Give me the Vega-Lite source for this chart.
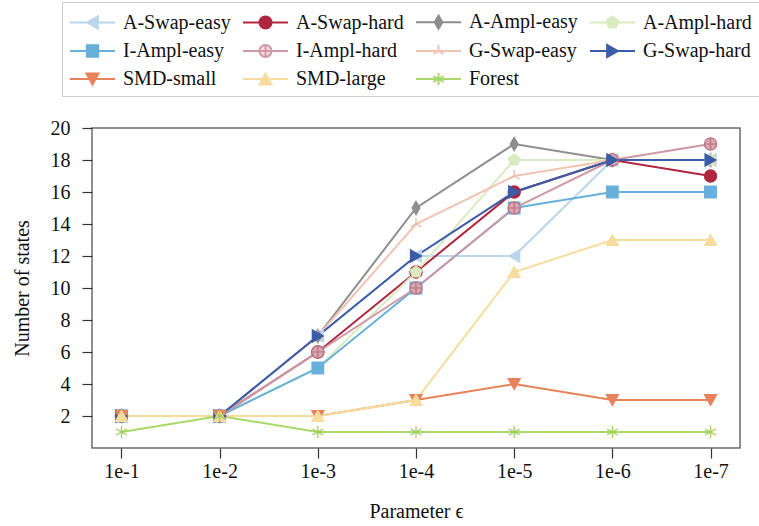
{
  "$schema": "https://vega.github.io/schema/vega-lite/v6.json",
  "width": 648,
  "height": 320,
  "autosize": {"type": "none"},
  "padding": {"left": 92, "top": 128, "right": 19, "bottom": 78},
  "config": {
    "font": "Liberation Serif",
    "view": {"stroke": "#6b6b6b", "strokeWidth": 1.5},
    "axis": {
      "labelFont": "Liberation Serif",
      "labelFontSize": 20,
      "labelColor": "#111111",
      "titleFont": "Liberation Serif",
      "titleFontSize": 20,
      "titleFontWeight": "normal",
      "titleColor": "#111111",
      "grid": false,
      "domain": false,
      "tickColor": "#333333",
      "tickSize": 10,
      "tickWidth": 1.2
    }
  },
  "data": {
    "values": [
      {"series": "A-Swap-easy", "epsilon": "1e-1", "states": 2},
      {"series": "A-Swap-easy", "epsilon": "1e-2", "states": 2},
      {"series": "A-Swap-easy", "epsilon": "1e-3", "states": 7},
      {"series": "A-Swap-easy", "epsilon": "1e-4", "states": 12},
      {"series": "A-Swap-easy", "epsilon": "1e-5", "states": 12},
      {"series": "A-Swap-easy", "epsilon": "1e-6", "states": 18},
      {"series": "A-Swap-easy", "epsilon": "1e-7", "states": 18},
      {"series": "A-Swap-hard", "epsilon": "1e-1", "states": 2},
      {"series": "A-Swap-hard", "epsilon": "1e-2", "states": 2},
      {"series": "A-Swap-hard", "epsilon": "1e-3", "states": 6},
      {"series": "A-Swap-hard", "epsilon": "1e-4", "states": 11},
      {"series": "A-Swap-hard", "epsilon": "1e-5", "states": 16},
      {"series": "A-Swap-hard", "epsilon": "1e-6", "states": 18},
      {"series": "A-Swap-hard", "epsilon": "1e-7", "states": 17},
      {"series": "A-Ampl-easy", "epsilon": "1e-1", "states": 2},
      {"series": "A-Ampl-easy", "epsilon": "1e-2", "states": 2},
      {"series": "A-Ampl-easy", "epsilon": "1e-3", "states": 7},
      {"series": "A-Ampl-easy", "epsilon": "1e-4", "states": 15},
      {"series": "A-Ampl-easy", "epsilon": "1e-5", "states": 19},
      {"series": "A-Ampl-easy", "epsilon": "1e-6", "states": 18},
      {"series": "A-Ampl-easy", "epsilon": "1e-7", "states": 18},
      {"series": "A-Ampl-hard", "epsilon": "1e-1", "states": 2},
      {"series": "A-Ampl-hard", "epsilon": "1e-2", "states": 2},
      {"series": "A-Ampl-hard", "epsilon": "1e-3", "states": 5},
      {"series": "A-Ampl-hard", "epsilon": "1e-4", "states": 11},
      {"series": "A-Ampl-hard", "epsilon": "1e-5", "states": 18},
      {"series": "A-Ampl-hard", "epsilon": "1e-6", "states": 18},
      {"series": "A-Ampl-hard", "epsilon": "1e-7", "states": 18},
      {"series": "I-Ampl-easy", "epsilon": "1e-1", "states": 2},
      {"series": "I-Ampl-easy", "epsilon": "1e-2", "states": 2},
      {"series": "I-Ampl-easy", "epsilon": "1e-3", "states": 5},
      {"series": "I-Ampl-easy", "epsilon": "1e-4", "states": 10},
      {"series": "I-Ampl-easy", "epsilon": "1e-5", "states": 15},
      {"series": "I-Ampl-easy", "epsilon": "1e-6", "states": 16},
      {"series": "I-Ampl-easy", "epsilon": "1e-7", "states": 16},
      {"series": "I-Ampl-hard", "epsilon": "1e-1", "states": 2},
      {"series": "I-Ampl-hard", "epsilon": "1e-2", "states": 2},
      {"series": "I-Ampl-hard", "epsilon": "1e-3", "states": 6},
      {"series": "I-Ampl-hard", "epsilon": "1e-4", "states": 10},
      {"series": "I-Ampl-hard", "epsilon": "1e-5", "states": 15},
      {"series": "I-Ampl-hard", "epsilon": "1e-6", "states": 18},
      {"series": "I-Ampl-hard", "epsilon": "1e-7", "states": 19},
      {"series": "G-Swap-easy", "epsilon": "1e-1", "states": 2},
      {"series": "G-Swap-easy", "epsilon": "1e-2", "states": 2},
      {"series": "G-Swap-easy", "epsilon": "1e-3", "states": 7},
      {"series": "G-Swap-easy", "epsilon": "1e-4", "states": 14},
      {"series": "G-Swap-easy", "epsilon": "1e-5", "states": 17},
      {"series": "G-Swap-easy", "epsilon": "1e-6", "states": 18},
      {"series": "G-Swap-easy", "epsilon": "1e-7", "states": 18},
      {"series": "G-Swap-hard", "epsilon": "1e-1", "states": 2},
      {"series": "G-Swap-hard", "epsilon": "1e-2", "states": 2},
      {"series": "G-Swap-hard", "epsilon": "1e-3", "states": 7},
      {"series": "G-Swap-hard", "epsilon": "1e-4", "states": 12},
      {"series": "G-Swap-hard", "epsilon": "1e-5", "states": 16},
      {"series": "G-Swap-hard", "epsilon": "1e-6", "states": 18},
      {"series": "G-Swap-hard", "epsilon": "1e-7", "states": 18},
      {"series": "SMD-small", "epsilon": "1e-1", "states": 2},
      {"series": "SMD-small", "epsilon": "1e-2", "states": 2},
      {"series": "SMD-small", "epsilon": "1e-3", "states": 2},
      {"series": "SMD-small", "epsilon": "1e-4", "states": 3},
      {"series": "SMD-small", "epsilon": "1e-5", "states": 4},
      {"series": "SMD-small", "epsilon": "1e-6", "states": 3},
      {"series": "SMD-small", "epsilon": "1e-7", "states": 3},
      {"series": "SMD-large", "epsilon": "1e-1", "states": 2},
      {"series": "SMD-large", "epsilon": "1e-2", "states": 2},
      {"series": "SMD-large", "epsilon": "1e-3", "states": 2},
      {"series": "SMD-large", "epsilon": "1e-4", "states": 3},
      {"series": "SMD-large", "epsilon": "1e-5", "states": 11},
      {"series": "SMD-large", "epsilon": "1e-6", "states": 13},
      {"series": "SMD-large", "epsilon": "1e-7", "states": 13},
      {"series": "Forest", "epsilon": "1e-1", "states": 1},
      {"series": "Forest", "epsilon": "1e-2", "states": 2},
      {"series": "Forest", "epsilon": "1e-3", "states": 1},
      {"series": "Forest", "epsilon": "1e-4", "states": 1},
      {"series": "Forest", "epsilon": "1e-5", "states": 1},
      {"series": "Forest", "epsilon": "1e-6", "states": 1},
      {"series": "Forest", "epsilon": "1e-7", "states": 1}
    ]
  },
  "encoding": {
    "x": {
      "field": "epsilon",
      "type": "ordinal",
      "sort": ["1e-1", "1e-2", "1e-3", "1e-4", "1e-5", "1e-6", "1e-7"],
      "scale": {"type": "point", "padding": 0.3},
      "axis": {"labelAngle": 0, "title": "Parameter ϵ", "labelPadding": 3, "titlePadding": 20}
    },
    "y": {
      "field": "states",
      "type": "quantitative",
      "scale": {"domain": [0, 20], "nice": false},
      "axis": {"values": [2, 4, 6, 8, 10, 12, 14, 16, 18, 20], "title": "Number of states", "labelPadding": 12, "titlePadding": 18}
    }
  },
  "resolve": {"scale": {"fill": "independent", "stroke": "independent", "shape": "independent"}},
  "layer": [
    {
      "mark": {"type": "line", "strokeWidth": 2},
      "encoding": {
        "color": {
          "field": "series",
          "type": "nominal",
          "legend": null,
          "scale": {
            "domain": ["Forest", "SMD-large", "SMD-small", "G-Swap-hard", "G-Swap-easy", "I-Ampl-hard", "I-Ampl-easy", "A-Ampl-hard", "A-Ampl-easy", "A-Swap-hard", "A-Swap-easy"],
            "range": ["#a9d86a", "#f8dc9e", "#e8825a", "#3b5ca8", "#f1c4b2", "#cf98a4", "#67b0da", "#d9ebbf", "#8e8e8e", "#b0263f", "#bad6ec"]
          }
        }
      }
    },
    {
      "mark": {"type": "point", "filled": true, "size": 150, "opacity": 1, "strokeWidth": 1.2},
      "encoding": {
        "fill": {
          "field": "series",
          "type": "nominal",
          "legend": null,
          "scale": {
            "domain": ["Forest", "SMD-large", "SMD-small", "G-Swap-hard", "G-Swap-easy", "I-Ampl-hard", "I-Ampl-easy", "A-Ampl-hard", "A-Ampl-easy", "A-Swap-hard", "A-Swap-easy"],
            "range": ["#a9d86a", "#f8dc9e", "#e8825a", "#3b5ca8", "#f1c4b2", "#d9a7b2", "#67b0da", "#d9ebbf", "#8e8e8e", "#b0263f", "#bad6ec"]
          }
        },
        "stroke": {
          "field": "series",
          "type": "nominal",
          "legend": null,
          "scale": {
            "domain": ["Forest", "SMD-large", "SMD-small", "G-Swap-hard", "G-Swap-easy", "I-Ampl-hard", "I-Ampl-easy", "A-Ampl-hard", "A-Ampl-easy", "A-Swap-hard", "A-Swap-easy"],
            "range": ["#98cc55", "#f8dc9e", "#e8825a", "#3b5ca8", "#eeb59f", "#b8717f", "#67b0da", "#d9ebbf", "#8e8e8e", "#b0263f", "#bad6ec"]
          }
        },
        "shape": {
          "field": "series",
          "type": "nominal",
          "legend": null,
          "scale": {
            "domain": ["Forest", "SMD-large", "SMD-small", "G-Swap-hard", "G-Swap-easy", "I-Ampl-hard", "I-Ampl-easy", "A-Ampl-hard", "A-Ampl-easy", "A-Swap-hard", "A-Swap-easy"],
            "range": [
              "M0,-1V1M-0.87,-0.5L0.87,0.5M-0.87,0.5L0.87,-0.5",
              "M0,-0.9L-1,0.9L1,0.9Z",
              "M0,0.9L-1,-0.9L1,-0.9Z",
              "M0.9,0L-0.9,-1L-0.9,1Z",
              "M0,0V-1M0,0L0.87,0.5M0,0L-0.87,0.5",
              "M1,0A1,1,0,1,1,-1,0A1,1,0,1,1,1,0ZM-1,0H1M0,-1V1",
              "M-0.95,-0.95H0.95V0.95H-0.95Z",
              "M0,-1L0.951,-0.309L0.588,0.809L-0.588,0.809L-0.951,-0.309Z",
              "M0,-1.1L0.65,0L0,1.1L-0.65,0Z",
              "M1,0A1,1,0,1,1,-1,0A1,1,0,1,1,1,0Z",
              "M-0.9,0L0.9,-1L0.9,1Z"
            ]
          }
        }
      }
    },
    {
      "transform": [{"filter": "datum.epsilon === '1e-1'"}],
      "mark": {"type": "point", "filled": true, "size": 150, "opacity": 0, "strokeWidth": 2},
      "encoding": {
        "fill": {
          "field": "series",
          "type": "nominal",
          "scale": {
            "domain": ["A-Swap-easy", "A-Swap-hard", "A-Ampl-easy", "A-Ampl-hard", "I-Ampl-easy", "I-Ampl-hard", "G-Swap-easy", "G-Swap-hard", "SMD-small", "SMD-large", "Forest"],
            "range": ["#bad6ec", "#b0263f", "#8e8e8e", "#d9ebbf", "#67b0da", "#f3dde2", "#f1c4b2", "#3b5ca8", "#e8825a", "#f8dc9e", "#a9d86a"]
          },
          "legend": {
            "orient": "none",
            "legendX": -30,
            "legendY": -126,
            "direction": "horizontal",
            "columns": 4,
            "title": null,
            "symbolSize": 576,
            "symbolStrokeWidth": 2,
            "symbolOpacity": 1,
            "labelOffset": 28,
            "columnPadding": 8,
            "rowPadding": 5,
            "padding": 7,
            "strokeColor": "#cccccc",
            "fillColor": "#ffffff",
            "labelFont": "Liberation Serif",
            "labelFontSize": 20,
            "labelColor": "#111111",
            "labelLimit": 0
          }
        },
        "stroke": {
          "field": "series",
          "type": "nominal",
          "scale": {
            "domain": ["A-Swap-easy", "A-Swap-hard", "A-Ampl-easy", "A-Ampl-hard", "I-Ampl-easy", "I-Ampl-hard", "G-Swap-easy", "G-Swap-hard", "SMD-small", "SMD-large", "Forest"],
            "range": ["#bad6ec", "#b0263f", "#8e8e8e", "#d9ebbf", "#67b0da", "#cf98a4", "#f1c4b2", "#3b5ca8", "#e8825a", "#f8dc9e", "#a9d86a"]
          },
          "legend": {
            "orient": "none",
            "legendX": -30,
            "legendY": -126,
            "direction": "horizontal",
            "columns": 4,
            "title": null,
            "symbolSize": 576,
            "symbolStrokeWidth": 2,
            "symbolOpacity": 1
          }
        },
        "shape": {
          "field": "series",
          "type": "nominal",
          "scale": {
            "domain": ["A-Swap-easy", "A-Swap-hard", "A-Ampl-easy", "A-Ampl-hard", "I-Ampl-easy", "I-Ampl-hard", "G-Swap-easy", "G-Swap-hard", "SMD-small", "SMD-large", "Forest"],
            "range": [
              "M-1,0H2.75M0.425,0L1.325,-0.5L1.325,0.5Z",
              "M-1,0H2.75M1.375,0A0.5,0.5,0,1,1,0.375,0A0.5,0.5,0,1,1,1.375,0Z",
              "M-1,0H2.75M0.875,-0.55L1.2,0L0.875,0.55L0.55,0Z",
              "M-1,0H2.75M0.875,-0.5L1.35,-0.155L1.169,0.405L0.581,0.405L0.4,-0.155Z",
              "M-1,0H2.75M0.4,-0.475H1.35V0.475H0.4Z",
              "M-1,0H2.75M1.375,0A0.5,0.5,0,1,1,0.375,0A0.5,0.5,0,1,1,1.375,0ZM0.375,0H1.375M0.875,-0.5V0.5",
              "M-1,0H2.75M0.875,0V-0.5M0.875,0L1.31,0.25M0.875,0L0.44,0.25",
              "M-1,0H2.75M1.325,0L0.425,-0.5L0.425,0.5Z",
              "M-1,0H2.75M0.875,0.45L0.375,-0.45L1.375,-0.45Z",
              "M-1,0H2.75M0.875,-0.45L0.375,0.45L1.375,0.45Z",
              "M-1,0H2.75M0.875,-0.5V0.5M0.44,-0.25L1.31,0.25M0.44,0.25L1.31,-0.25"
            ]
          },
          "legend": {
            "orient": "none",
            "legendX": -30,
            "legendY": -126,
            "direction": "horizontal",
            "columns": 4,
            "title": null,
            "symbolSize": 576,
            "symbolStrokeWidth": 2,
            "symbolOpacity": 1
          }
        }
      }
    }
  ]
}
